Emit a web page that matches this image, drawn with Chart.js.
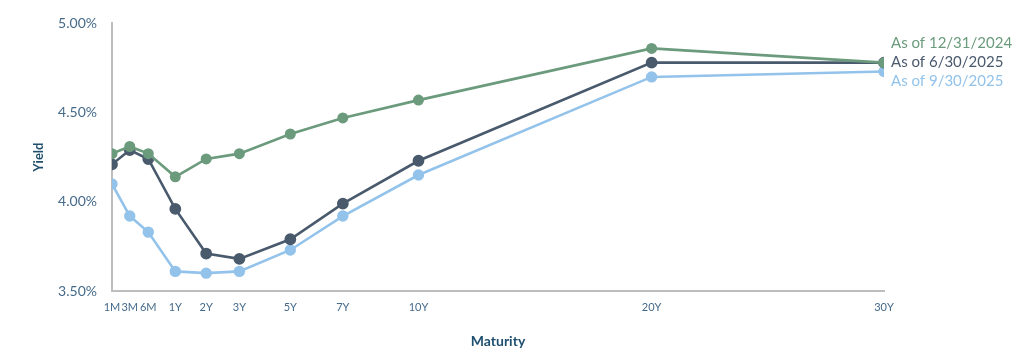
<!DOCTYPE html>
<html>
<head>
<meta charset="utf-8">
<script src="https://cdn.jsdelivr.net/npm/chart.js@4.4.1/dist/chart.umd.min.js"></script>
<style>
  html, body { margin: 0; padding: 0; background: #ffffff; }
  #wrap { width: 1024px; height: 359px; position: relative; }
</style>
</head>
<body>
<div id="wrap"><canvas id="c"></canvas></div>
<script>
// ---- Data ----
const tenors = ['1M', '3M', '6M', '1Y', '2Y', '3Y', '5Y', '7Y', '10Y', '20Y', '30Y'];
// position of each tenor along the (non-uniform) maturity axis, 0..100
const tenorAxisPos = [0, 2.3, 4.7, 8.2, 12.2, 16.5, 23.1, 29.9, 39.7, 69.9, 100];
const yields20241231 = [4.27, 4.31, 4.27, 4.14, 4.24, 4.27, 4.38, 4.47, 4.57, 4.86, 4.78];
const yields20250630 = [4.21, 4.29, 4.24, 3.96, 3.71, 3.68, 3.79, 3.99, 4.23, 4.78, 4.78];
const yields20250930 = [4.10, 3.92, 3.83, 3.61, 3.60, 3.61, 3.73, 3.92, 4.15, 4.70, 4.73];
const seriesLabels = ['As of 12/31/2024', 'As of 6/30/2025', 'As of 9/30/2025'];
const yTicks = [3.5, 4.0, 4.5, 5.0];

const colors = ['#6b9b7c', '#4a5a6d', '#93c3ea'];
const FONT = 'Lato, "Noto Sans", sans-serif';

function toPoints(vals) {
  return vals.map((v, i) => ({ x: tenorAxisPos[i], y: v }));
}

const endLabels = {
  id: 'endLabels',
  afterDatasetsDraw(chart) {
    const ctx = chart.ctx;
    const mid = chart.getDatasetMeta(1).data;
    const anchor = mid[mid.length - 1];
    const offsets = [-19.5, 0, 19];
    ctx.save();
    ctx.font = '15px ' + FONT;
    ctx.textBaseline = 'middle';
    ctx.textAlign = 'left';
    chart.data.datasets.forEach((ds, i) => {
      ctx.fillStyle = ds.borderColor;
      ctx.fillText(ds.label, anchor.x + 7, anchor.y + offsets[i]);
    });
    ctx.restore();
  }
};

const mkDs = (label, vals, color, r) => ({
  label: label,
  data: toPoints(vals),
  borderColor: color,
  backgroundColor: color,
  pointBackgroundColor: color,
  pointBorderColor: color,
  pointRadius: r,
  pointHoverRadius: r,
  borderWidth: 2.6,
  tension: 0
});

new Chart(document.getElementById('c'), {
  type: 'line',
  data: {
    datasets: [
      mkDs(seriesLabels[0], yields20241231, colors[0], 4.2),
      mkDs(seriesLabels[1], yields20250630, colors[1], 4.6),
      mkDs(seriesLabels[2], yields20250930, colors[2], 4.4)
    ]
  },
  options: {
    responsive: true,
    maintainAspectRatio: false,
    animation: false,
    layout: { padding: { top: 20, right: 140, left: 0, bottom: 0 } },
    plugins: { legend: { display: false }, tooltip: { enabled: false } },
    scales: {
      x: {
        type: 'linear',
        min: 0,
        max: 100,
        afterFit: s => { s.height = 68; },
        afterBuildTicks: s => { s.ticks = tenorAxisPos.map(v => ({ value: v })); },
        grid: { display: false, drawTicks: false },
        border: { display: true, color: '#bdbdbd', width: 2 },
        ticks: {
          autoSkip: false,
          maxRotation: 0,
          padding: 10,
          color: '#456a8a',
          font: { family: FONT, size: 11 },
          callback: (v, i) => tenors[i]
        },
        title: {
          display: true,
          text: 'Maturity',
          color: '#1f4f6f',
          font: { family: FONT, size: 14, weight: 'bold' },
          padding: { top: 0, bottom: 9 }
        }
      },
      y: {
        type: 'linear',
        min: 3.5,
        max: 5.0,
        afterFit: s => { s.width = 112; },
        afterBuildTicks: s => { s.ticks = yTicks.map(v => ({ value: v })); },
        grid: { display: false, drawTicks: false },
        border: { display: true, color: '#bdbdbd', width: 2 },
        ticks: {
          padding: 15,
          color: '#456a8a',
          font: { family: FONT, size: 14 },
          callback: v => v.toFixed(2) + '%'
        },
        title: {
          display: true,
          text: 'Yield',
          color: '#1f4f6f',
          font: { family: FONT, size: 13, weight: 'bold' },
          padding: { top: 31, bottom: 0 }
        }
      }
    }
  },
  plugins: [endLabels]
});
</script>
</body>
</html>
